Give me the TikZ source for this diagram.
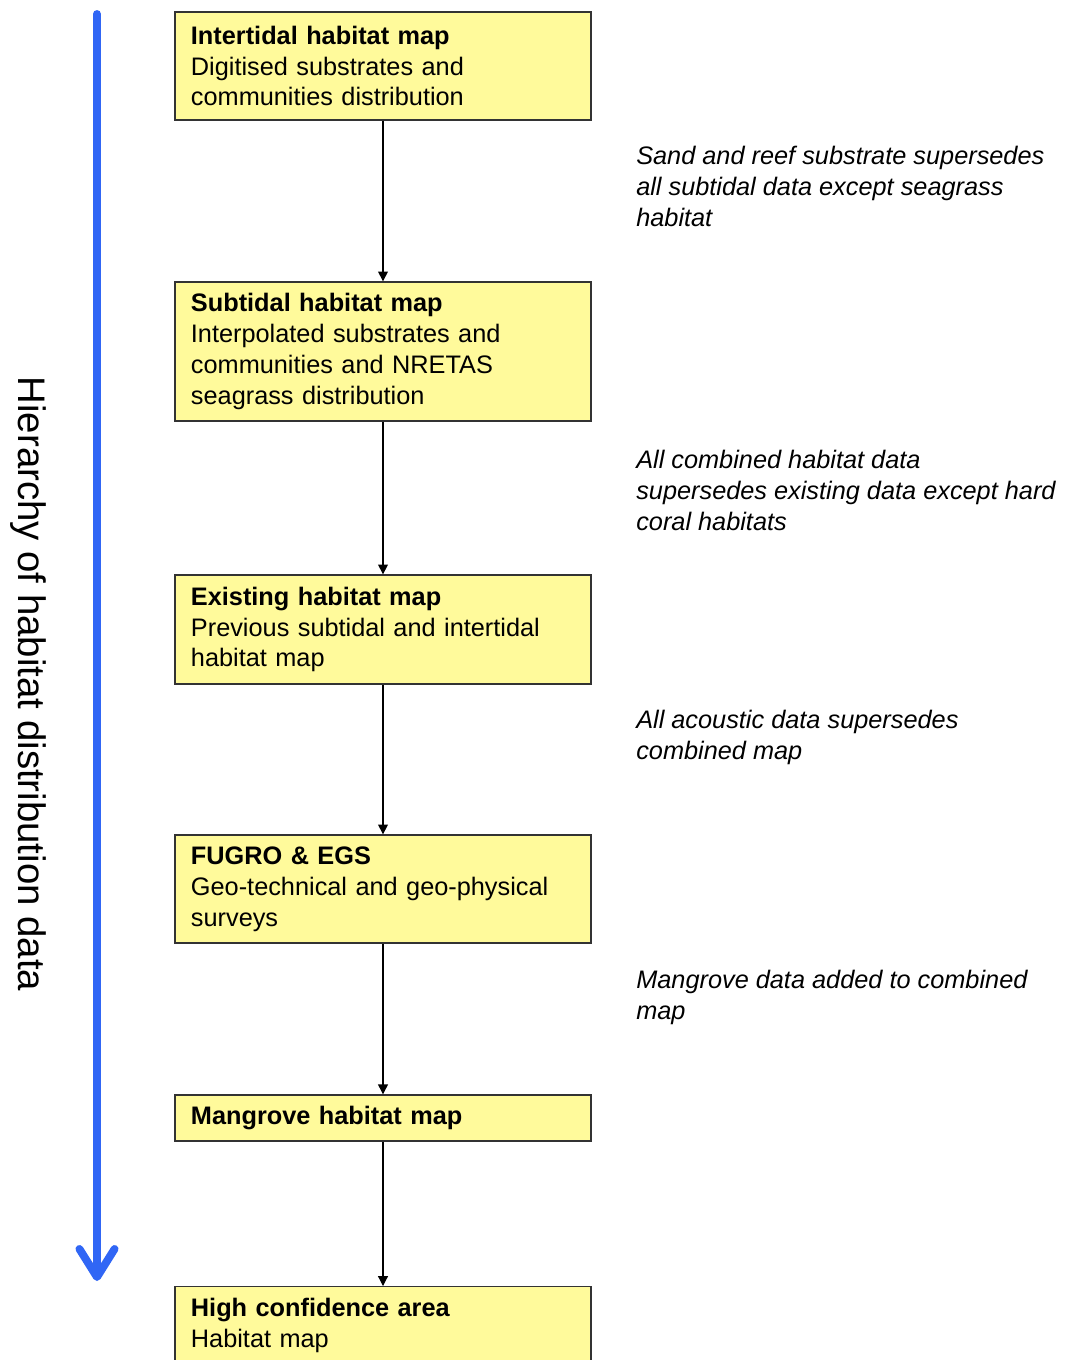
\documentclass[tikz,border=0pt]{standalone}
\usepackage{fontspec}
\setmainfont{Liberation Sans}
\usepackage{tikz}
\usetikzlibrary{arrows.meta,positioning,calc}
\usepackage{xcolor}
\definecolor{boxyellow}{RGB}{255,250,155}
\definecolor{hierblue}{RGB}{48,102,245}

\begin{document}
\begin{tikzpicture}[x=0.025cm, y=-0.025cm, >=Stealth,
    box/.style={draw=black!80, line width=0.9pt, fill=boxyellow, text width=9.6cm,
      inner xsep=0.4cm, inner ysep=0.28cm, align=left,
      font=\fontsize{18}{22}\selectfont},
    note/.style={anchor=north west, inner sep=0pt, align=left,
      font=\fontsize{18}{22}\selectfont\itshape},
    flow/.style={line width=0.8pt, -{Triangle[length=7pt,width=7pt]}},
    hier/.style={hierblue, line width=5.6pt, line cap=round,
      -{Straight Barb[length=20pt,width=25pt,round]}}]

  \clip (0,0) rectangle (1069,1360);

  % Define nodes

  \node[box, minimum height=2.7cm] (inter) at (383,66)
    {\textbf{Intertidal habitat map}\\Digitised substrates and\\communities distribution};
  \node[box, minimum height=3.475cm] (sub) at (383,351.5)
    {\textbf{Subtidal habitat map}\\Interpolated substrates and\\communities and NRETAS\\seagrass distribution};
  \node[box, minimum height=2.725cm] (exist) at (383,629.5)
    {\textbf{Existing habitat map}\\Previous subtidal and intertidal\\habitat map};
  \node[box, minimum height=2.7cm] (fugro) at (383,889)
    {\textbf{FUGRO \& EGS}\\Geo-technical and geo-physical\\surveys};
  \node[box, minimum height=1.15cm] (mang) at (383,1118)
    {\textbf{Mangrove habitat map}};
  \node[box, anchor=north] (high) at (383,1286)
    {\textbf{High confidence area}\\Habitat map};

  \node[note] (n1) at (636,146)
    {Sand and reef substrate supersedes\\all subtidal data except seagrass\\habitat};
  \node[note] (n2) at (636,450)
    {All combined habitat data\\supersedes existing data except hard\\coral habitats};
  \node[note] (n3) at (636,710)
    {All acoustic data supersedes\\combined map};
  \node[note] (n4) at (636,970)
    {Mangrove data added to combined\\map};

  \node[rotate=-90, font=\fontsize{27.3}{30}\selectfont] (hlabel) at (28,684)
    {Hierarchy of habitat distribution data};

  \coordinate (htop) at (97,14);
  \coordinate (hend) at (97,1281);

  % Draw arrows
  \draw[flow] (inter) -- (sub);
  \draw[flow] (sub) -- (exist);
  \draw[flow] (exist) -- (fugro);
  \draw[flow] (fugro) -- (mang);
  \draw[flow] (mang) -- (high);

  \draw[hier] (htop) -- (hend);
\end{tikzpicture}
\end{document}
